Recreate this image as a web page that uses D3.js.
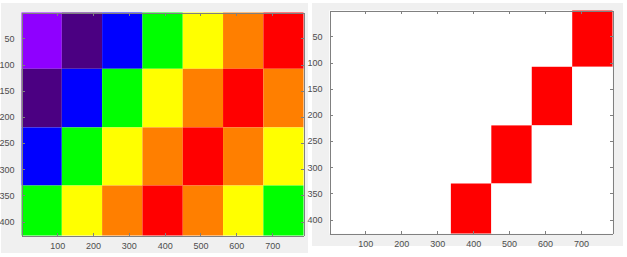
<!DOCTYPE html>
<html>
<head>
	<meta http-equiv="Content-Type" content="text/html;charset=UTF-8">
	<title>Rainbow image and red mask</title>
	<style>
		body { margin: 0; background: #fff; }
		.axis text { font-family: "Liberation Sans", Arial, sans-serif; font-size: 9px; fill: #4d4d4d; }
		.axis path, .axis line { stroke: #808080; shape-rendering: crispEdges; }
	</style>
</head>
<body>
	<div class="drawing"></div>

	<script src="https://d3js.org/d3.v7.min.js"></script>
	<script type="text/javascript">
		var w = 627;
		var h = 257;

		/* image data: column / row pixel edges and colour index per cell */
		var colEdges = [0.5, 113, 225.5, 338, 450.5, 563, 675.5, 787.5];
		var rowEdges = [0.5, 108, 220, 331, 426.5];
		var palette = ["#8f00ff", "#4b0082", "#0000ff", "#00ff00", "#ffff00", "#ff7f00", "#ff0000"];
		var row0 = [0, 1, 2, 3, 4, 5, 6];
		var row1 = [1, 2, 3, 4, 5, 6, 5];
		var row2 = [2, 3, 4, 5, 6, 5, 4];
		var row3 = [3, 4, 5, 6, 5, 4, 3];
		var rows = [row0, row1, row2, row3];
		var maskIndex = 6; // only red survives in the right image

		var xTicks = [100, 200, 300, 400, 500, 600, 700];
		var yTicks = [50, 100, 150, 200, 250, 300, 350, 400];

		var SVG = d3.select("div.drawing").append("svg")
					.attr("width", w)
					.attr("height", h);

		/* flatten cells */
		var cells = [];
		rows.forEach(function(r, i){
			r.forEach(function(v, j){
				cells.push({ r: i, c: j, v: v });
			});
		});

		function renderPanel(bg, box, fill){
			SVG.append("rect")
				.attr("x", bg.x).attr("y", bg.y)
				.attr("width", bg.w).attr("height", bg.h)
				.attr("fill", "#f0f0f0");

			var X = d3.scaleLinear()
					.domain([colEdges[0], colEdges[colEdges.length - 1]])
					.range([box.x0, box.x1]);
			var Y = d3.scaleLinear()
					.domain([rowEdges[0], rowEdges[rowEdges.length - 1]])
					.range([box.y0, box.y1]);

			var g = SVG.append("g");
			g.append("rect")
				.attr("x", box.x0).attr("y", box.y0)
				.attr("width", box.x1 - box.x0).attr("height", box.y1 - box.y0)
				.attr("fill", "#fff");

			g.selectAll("rect.cell")
				.data(cells)
				.enter().append("rect")
				.attr("class", "cell")
				.attr("x", function(d){ return X(colEdges[d.c]); })
				.attr("y", function(d){ return Y(rowEdges[d.r]); })
				.attr("width", function(d){ return X(colEdges[d.c + 1]) - X(colEdges[d.c]); })
				.attr("height", function(d){ return Y(rowEdges[d.r + 1]) - Y(rowEdges[d.r]); })
				.attr("fill", fill);

			/* axes with inward ticks on all four sides */
			SVG.append("g").attr("class", "axis")
				.attr("transform", "translate(0," + box.y1 + ")")
				.call(d3.axisBottom(X).tickValues(xTicks).tickSizeInner(-3).tickSizeOuter(0).tickPadding(7));
			SVG.append("g").attr("class", "axis")
				.attr("transform", "translate(0," + box.y0 + ")")
				.call(d3.axisTop(X).tickValues(xTicks).tickSizeInner(-3).tickSizeOuter(0).tickFormat(""));
			SVG.append("g").attr("class", "axis")
				.attr("transform", "translate(" + box.x0 + ",0)")
				.call(d3.axisLeft(Y).tickValues(yTicks).tickSizeInner(-3).tickSizeOuter(0).tickPadding(7));
			SVG.append("g").attr("class", "axis")
				.attr("transform", "translate(" + box.x1 + ",0)")
				.call(d3.axisRight(Y).tickValues(yTicks).tickSizeInner(-3).tickSizeOuter(0).tickFormat(""));
		}

		renderPanel({ x: 1, y: 3, w: 307, h: 250 },
			{ x0: 21.5, x1: 303.5, y0: 12.5, y1: 235.5 },
			function(d){ return palette[d.v]; });

		renderPanel({ x: 312, y: 3, w: 311, h: 243 },
			{ x0: 329.5, x1: 612.5, y0: 10.5, y1: 233.5 },
			function(d){ return d.v === maskIndex ? palette[d.v] : "#fff"; });
	</script>
</body>
</html>
